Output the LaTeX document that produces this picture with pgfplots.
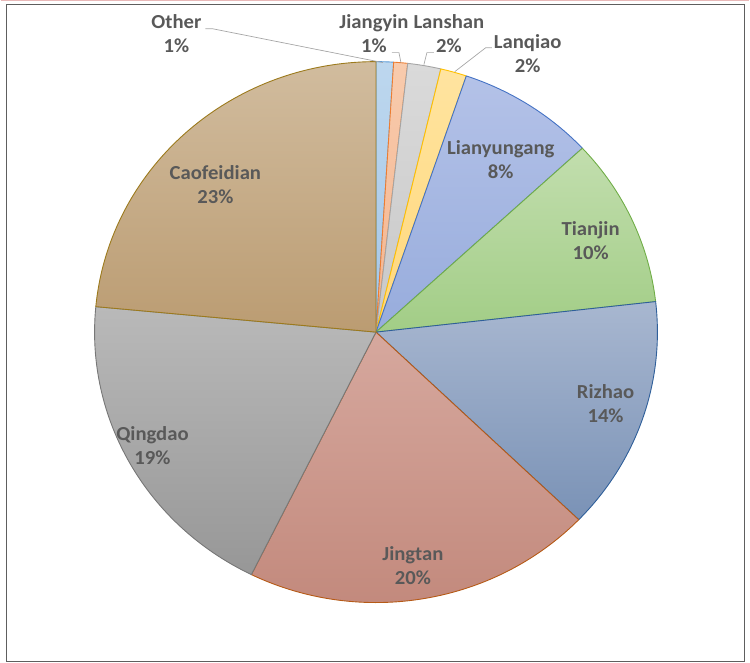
\documentclass[border=0pt]{standalone}
\usepackage{pgfplots}
\pgfplotsset{compat=1.18}
\usepackage{pgfplotstable}
\usepackage{fontspec}
\setmainfont{Carlito}
\definecolor{oT}{HTML}{BDD7EE}\definecolor{oB}{HTML}{A3C6E8}\definecolor{oE}{HTML}{5B9BD5}
\definecolor{jT}{HTML}{F8CBAD}\definecolor{jB}{HTML}{F4B48E}\definecolor{jE}{HTML}{ED7D31}
\definecolor{lsT}{HTML}{DADADA}\definecolor{lsB}{HTML}{C8C8C8}\definecolor{lsE}{HTML}{A5A5A5}
\definecolor{lqT}{HTML}{FFE4A0}\definecolor{lqB}{HTML}{FFD77A}\definecolor{lqE}{HTML}{FFC000}
\definecolor{lyT}{HTML}{B4C2E8}\definecolor{lyB}{HTML}{97ACDC}\definecolor{lyE}{HTML}{4472C4}
\definecolor{tjT}{HTML}{C2DEAE}\definecolor{tjB}{HTML}{A2CD86}\definecolor{tjE}{HTML}{70AD47}
\definecolor{rzT}{HTML}{A8B7D0}\definecolor{rzB}{HTML}{7A92B6}\definecolor{rzE}{HTML}{2F5F9A}
\definecolor{jtT}{HTML}{D6A89E}\definecolor{jtB}{HTML}{C1877A}\definecolor{jtE}{HTML}{B65A16}
\definecolor{qdT}{HTML}{B9B9B9}\definecolor{qdB}{HTML}{979797}\definecolor{qdE}{HTML}{777777}
\definecolor{cfT}{HTML}{D1BC9E}\definecolor{cfB}{HTML}{BB9C72}\definecolor{cfE}{HTML}{9C7A1C}
\definecolor{labc}{HTML}{595959}
\definecolor{leader}{HTML}{A6A6A6}
\definecolor{framec}{HTML}{5E5E5E}
\definecolor{pinkc}{HTML}{E9B8B8}
\pgfplotstableread{
name value top bottom edge
Other 1.0 oT oB oE
Jiangyin 0.8 jT jB jE
Lanshan 1.9 lsT lsB lsE
Lanqiao 1.5 lqT lqB lqE
Lianyungang 7.9 lyT lyB lyE
Tianjin 10.1 tjT tjB tjE
Rizhao 14.0 rzT rzB rzE
Jingtan 20.1 jtT jtB jtE
Qingdao 19.2 qdT qdB qdE
Caofeidian 23.5 cfT cfB cfE
}\piedata
\begin{document}
\begin{tikzpicture}[lab/.style={font=\fontsize{20}{24}\selectfont\bfseries, text=labc, align=center, inner sep=0pt, xscale=1.04}]
\begin{axis}[width=750bp, height=666bp, scale only axis, xmin=0, xmax=750, ymin=0, ymax=666, y dir=reverse, hide axis, clip=false]
\draw[pinkc, line width=1.5pt] (axis cs:0,1) -- (axis cs:750,1);
\draw[framec, line width=1.3pt] (axis cs:6,5) rectangle (axis cs:745,663);
\def\piecum{0}
\pgfplotsforeachungrouped \k in {0,...,9}{%
  \pgfplotstablegetelem{\k}{value}\of\piedata \let\slV\pgfplotsretval
  \pgfplotstablegetelem{\k}{top}\of\piedata \let\slT\pgfplotsretval
  \pgfplotstablegetelem{\k}{bottom}\of\piedata \let\slB\pgfplotsretval
  \pgfplotstablegetelem{\k}{edge}\of\piedata \let\slE\pgfplotsretval
  \pgfmathsetmacro\sa{90-3.6*\piecum}%
  \pgfmathsetmacro\piecum{\piecum+\slV}%
  \pgfmathsetmacro\ea{90-3.6*\piecum}%
  \pgfmathsetmacro\px{376+282*cos(\sa)}%
  \pgfmathsetmacro\py{333-271*sin(\sa)}%
  \edef\tmp{\noexpand\addplot[top color=\slT, bottom color=\slB, draw=\slE, line width=0.9pt, line join=round] coordinates {(376,333) (\px,\py)} arc[start angle=\sa, end angle=\ea, x radius=282bp, y radius=271bp] -- cycle;}%
  \tmp
}
\addplot[leader, line width=0.7pt] coordinates {(205,29) (212,29) (383,63)};
\addplot[leader, line width=0.7pt] coordinates {(392,53) (399,53) (401,63)};
\addplot[leader, line width=0.7pt] coordinates {(434,53) (427,53) (424,65)};
\addplot[leader, line width=0.7pt] coordinates {(492,48) (486,48) (455,72)};
\node[lab] at (axis cs:176,34) {Other\\1\%};
\node[lab] at (axis cs:374,34) {Jiangyin\\1\%};
\node[lab] at (axis cs:449,34) {Lanshan\\2\%};
\node[lab] at (axis cs:528,54) {Lanqiao\\2\%};
\node[lab] at (axis cs:501,160) {Lianyungang\\8\%};
\node[lab] at (axis cs:591,241) {Tianjin\\10\%};
\node[lab] at (axis cs:606,405) {Rizhao\\14\%};
\node[lab] at (axis cs:413,567) {Jingtan\\20\%};
\node[lab] at (axis cs:152,447) {Qingdao\\19\%};
\node[lab] at (axis cs:215,185) {Caofeidian\\23\%};
\end{axis}
\end{tikzpicture}
\end{document}
